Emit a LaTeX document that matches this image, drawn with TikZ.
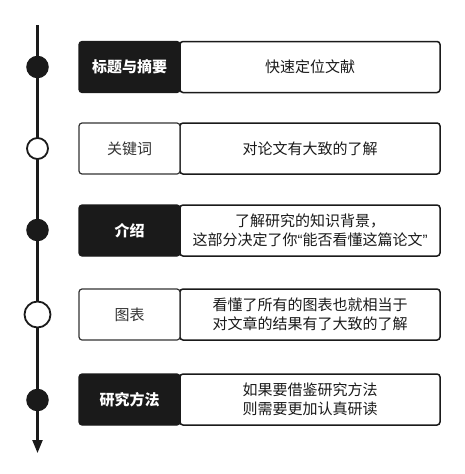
\documentclass[tikz,border=0pt]{standalone}
\usepackage{fontspec}
\setmainfont{Noto Sans CJK SC}
\newfontfamily\latq{Liberation Sans}
\usetikzlibrary{arrows.meta}
\definecolor{dark}{HTML}{1A1A1A}
\definecolor{midgray}{HTML}{333333}
\tikzset{
  darkbox/.style={rectangle, rounded corners=3pt, fill=dark, draw=dark, line width=1.2pt,
    minimum width=101pt, minimum height=51pt, inner sep=0pt,
    text=white, font=\fontsize{15}{19}\selectfont\bfseries},
  lightbox/.style={rectangle, rounded corners=3pt, fill=white, draw=midgray, line width=1.2pt,
    minimum width=101pt, minimum height=51pt, inner sep=0pt,
    text=midgray, font=\fontsize{15}{19}\selectfont},
  descbox/.style={rectangle, rounded corners=3pt, fill=white, draw=dark, line width=1.5pt,
    minimum width=260pt, minimum height=51pt, inner sep=0pt, align=center,
    text=dark, font=\fontsize{15}{19}\selectfont},
  fulldot/.style={circle, fill=dark, draw=dark, line width=1.5pt, minimum size=21pt, inner sep=0pt},
  emptydot/.style={circle, fill=white, draw=dark, line width=1.8pt, minimum size=#1, inner sep=0pt},
  emptydot/.default=21pt,
  timeline/.style={draw=dark, line width=2.2pt, -{Triangle[length=13pt,width=10pt]}}
}
\begin{document}
\begin{tikzpicture}[x=1pt,y=-1pt]
\useasboundingbox (0,0) rectangle (464,474);
\coordinate (top) at (37.5,25);
\coordinate (bottom) at (37.5,453);
\draw[timeline] (top) -- (bottom);
% row 1
\node[fulldot] (c1) at (37.5,67) {};
\node[descbox] (r1) at (310,67) {快速定位文献};
\node[darkbox] (l1) at (129.5,67) {标题与摘要};
% row 2
\node[emptydot] (c2) at (37.5,148.5) {};
\node[descbox] (r2) at (310,148.5) {对论文有大致的了解};
\node[lightbox] (l2) at (129.5,148.5) {关键词};
% row 3
\node[fulldot] (c3) at (37.5,230) {};
\node[descbox] (r3) at (310,230.5) {了解研究的知识背景，\\这部分决定了你{\latq “}能否看懂这篇论文{\latq ”}};
\node[darkbox] (l3) at (129.5,230.5) {介绍};
% row 4
\node[emptydot=26pt] (c4) at (37.5,314.5) {};
\node[descbox] (r4) at (310,314.5) {看懂了所有的图表也就相当于\\对文章的结果有了大致的了解};
\node[lightbox] (l4) at (129.5,314.5) {图表};
% row 5
\node[fulldot] (c5) at (37.5,400) {};
\node[descbox] (r5) at (310,399.5) {如果要借鉴研究方法\\则需要更加认真研读};
\node[darkbox] (l5) at (129.5,399.5) {研究方法};
\end{tikzpicture}
\end{document}
